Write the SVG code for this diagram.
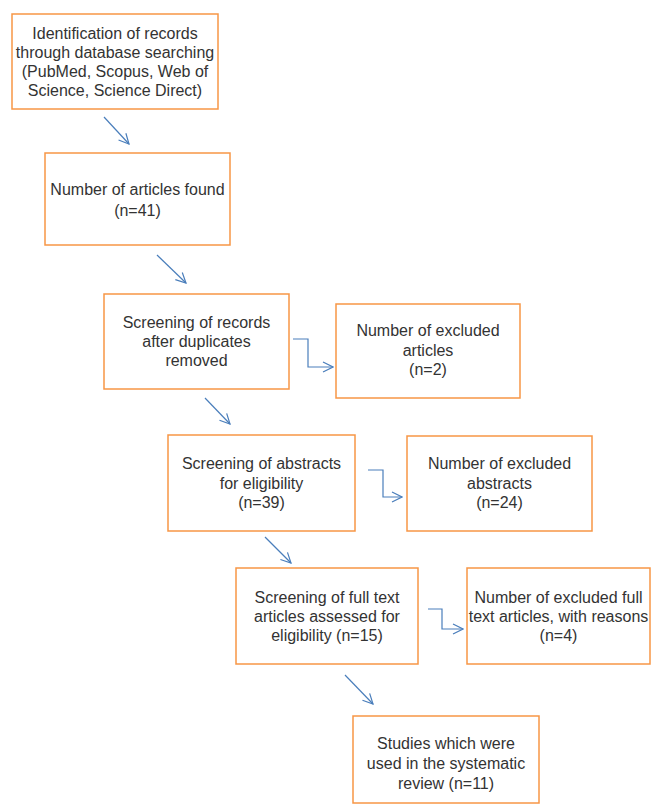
<svg xmlns="http://www.w3.org/2000/svg" width="656" height="805" viewBox="0 0 656 805">
<style>
.box{fill:#fff;stroke:#F79646;stroke-width:1.5}
.t{font-family:"Liberation Sans",Arial,sans-serif;font-size:16px;fill:#333;text-anchor:middle}
.c{fill:none;stroke:#4A7EBB;stroke-width:1.2}
</style>
<defs>
<marker id="ah" viewBox="0 0 12 12" refX="11" refY="6" markerWidth="12" markerHeight="12" markerUnits="userSpaceOnUse" orient="auto">
<path d="M1,1 L11,6 L1,11" fill="none" stroke="#4A7EBB" stroke-width="1.2"/>
</marker>
</defs>
<rect width="656" height="805" fill="#fff"/>
<g id="connectors">
<path class="c" d="M104,117 L129,144" marker-end="url(#ah)"/>
<path class="c" d="M157,255 L186,283" marker-end="url(#ah)"/>
<path class="c" d="M205,398 L230,424" marker-end="url(#ah)"/>
<path class="c" d="M265,537 L291,563" marker-end="url(#ah)"/>
<path class="c" d="M345,675 L373,704" marker-end="url(#ah)"/>
<path class="c" d="M293,339 L308,339 L308,367 L333,367" marker-end="url(#ah)"/>
<path class="c" d="M368,470 L383,470 L383,497 L402,497" marker-end="url(#ah)"/>
<path class="c" d="M428,609 L442,609 L442,629 L463,629" marker-end="url(#ah)"/>
</g>
<g id="n1">
<rect class="box" x="12" y="14" width="206" height="95"/>
<text class="t" x="115" y="39">Identification of records</text>
<text class="t" x="115" y="58">through database searching</text>
<text class="t" x="115" y="77">(PubMed, Scopus, Web of</text>
<text class="t" x="115" y="96">Science, Science Direct)</text>
</g>
<g id="n2">
<rect class="box" x="45" y="153" width="185" height="92"/>
<text class="t" x="137.5" y="195">Number of articles found</text>
<text class="t" x="137.5" y="216">(n=41)</text>
</g>
<g id="n3">
<rect class="box" x="104" y="294" width="185" height="95"/>
<text class="t" x="196.5" y="328">Screening of records</text>
<text class="t" x="196.5" y="347">after duplicates</text>
<text class="t" x="196.5" y="366">removed</text>
</g>
<g id="n4">
<rect class="box" x="336" y="304" width="184" height="94"/>
<text class="t" x="428" y="336">Number of excluded</text>
<text class="t" x="428" y="356">articles</text>
<text class="t" x="428" y="375">(n=2)</text>
</g>
<g id="n5">
<rect class="box" x="168" y="435" width="187" height="96"/>
<text class="t" x="261.5" y="469">Screening of abstracts</text>
<text class="t" x="261.5" y="489">for eligibility</text>
<text class="t" x="261.5" y="508">(n=39)</text>
</g>
<g id="n6">
<rect class="box" x="407" y="436" width="185" height="95"/>
<text class="t" x="499.5" y="469">Number of excluded</text>
<text class="t" x="499.5" y="489">abstracts</text>
<text class="t" x="499.5" y="508">(n=24)</text>
</g>
<g id="n7">
<rect class="box" x="236" y="568" width="182" height="96"/>
<text class="t" x="327" y="603">Screening of full text</text>
<text class="t" x="327" y="622">articles assessed for</text>
<text class="t" x="327" y="641">eligibility (n=15)</text>
</g>
<g id="n8">
<rect class="box" x="467" y="568" width="183" height="96"/>
<text class="t" x="558.5" y="603">Number of excluded full</text>
<text class="t" x="558.5" y="622">text articles, with reasons</text>
<text class="t" x="558.5" y="641">(n=4)</text>
</g>
<g id="n9">
<rect class="box" x="353" y="716" width="186" height="87"/>
<text class="t" x="446" y="749">Studies which were</text>
<text class="t" x="446" y="769">used in the systematic</text>
<text class="t" x="446" y="789">review (n=11)</text>
</g>
</svg>
